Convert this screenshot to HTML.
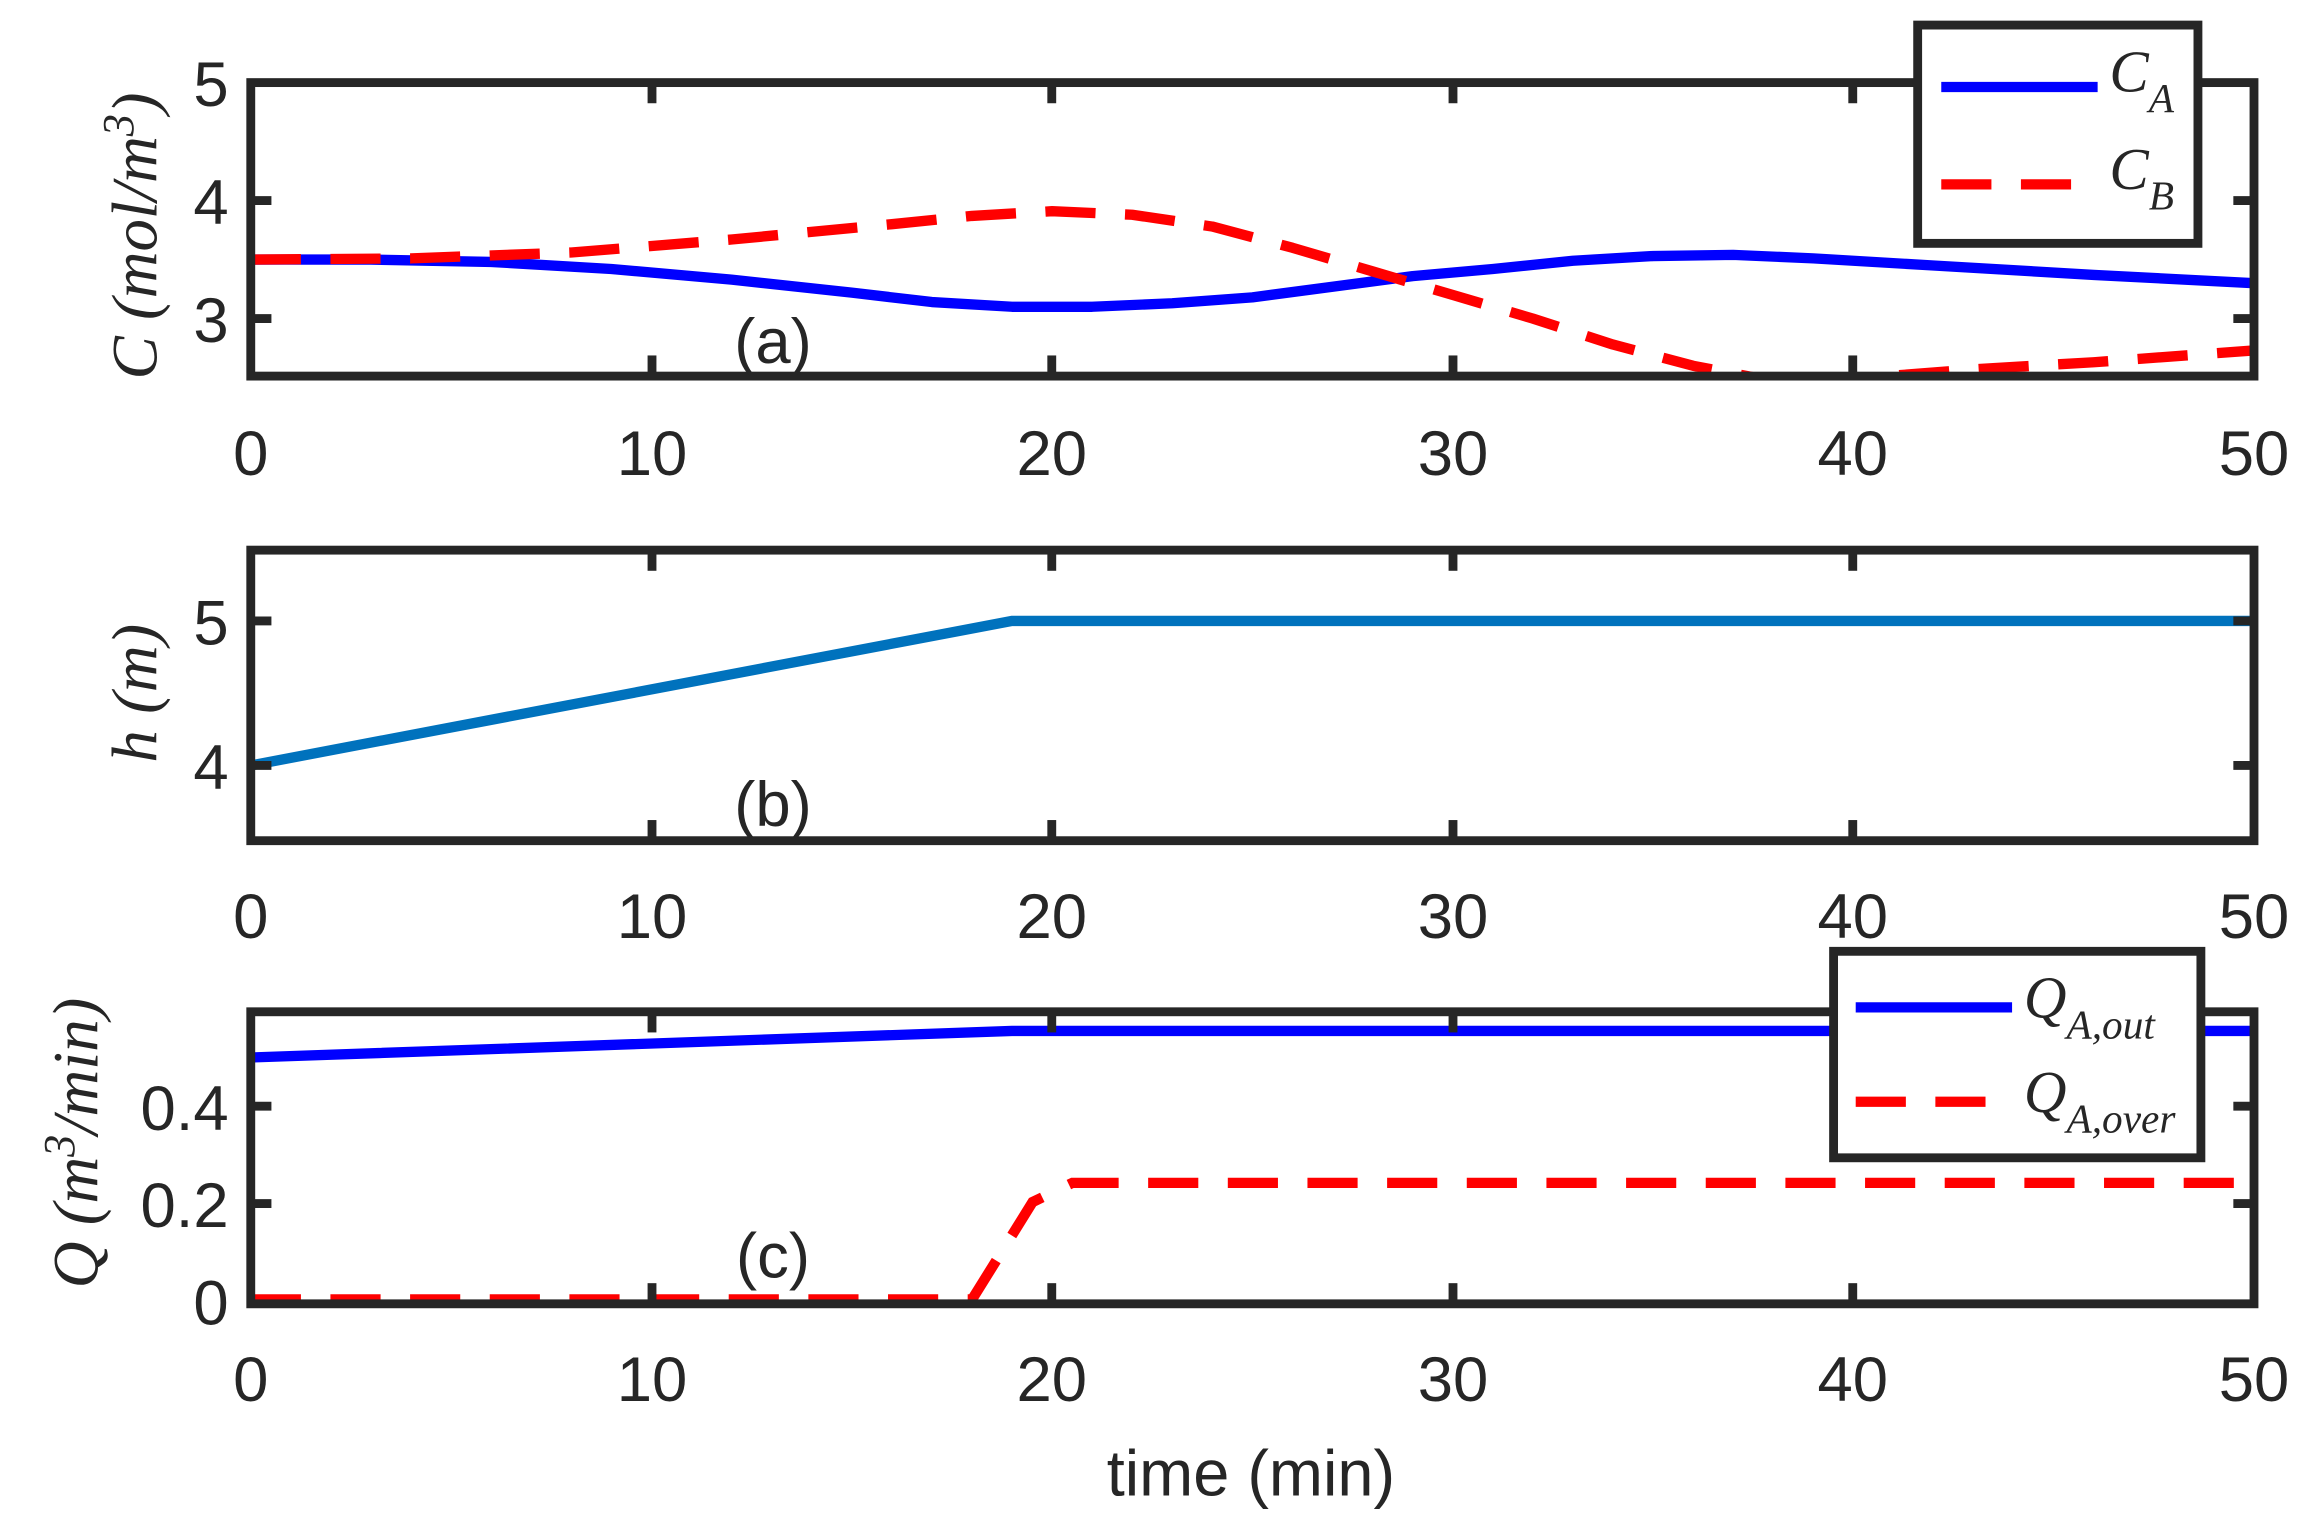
<!DOCTYPE html>
<html><head><meta charset="utf-8"><style>html,body{margin:0;padding:0;background:#fff}svg{display:block}</style></head>
<body>
<svg width="2313" height="1528" viewBox="0 0 1568 1036" preserveAspectRatio="none" xmlns="http://www.w3.org/2000/svg">
<defs>
<clipPath id="ca"><rect x="170" y="56" width="1358" height="199"/></clipPath>
</defs>
<rect width="1568" height="1036" fill="#fff"/>
<g font-family="Liberation Sans, sans-serif" font-size="43" fill="#262626">
<!-- Plot a -->
<g clip-path="url(#ca)" fill="none" stroke-width="7" stroke-linejoin="round">
<polyline stroke="#0000ff" points="170,176 251.5,176 333,177.6 414.4,182.4 495.9,189.6 577.4,198.4 631.7,204.8 686,208 740.4,208 794.7,205.6 849,201.6 903.3,194.4 957.6,187.2 1012,182.4 1066.3,176.8 1120.6,173.6 1174.9,172.8 1229.2,175.2 1310.7,180 1419.4,186.4 1528,192"/>
<polyline stroke="#ff0000" stroke-dasharray="34,20" points="170,176 278.6,175.2 387.3,171.2 495.9,162.4 604.6,152 658.9,146.4 713.2,143.2 767.5,145.6 821.8,153.6 876.2,168 930.5,184 984.8,200 1039.1,216 1093.4,233.6 1147.8,248 1202.1,258.4 1256.4,256.8 1337.9,250.4 1419.4,245.6 1528,237.6"/>
</g>
<rect x="170" y="56" width="1358" height="199" fill="none" stroke="#262626" stroke-width="6"/>
<g stroke="#262626" stroke-width="6">
<line x1="442" y1="56" x2="442" y2="70"/><line x1="713" y1="56" x2="713" y2="70"/><line x1="985" y1="56" x2="985" y2="70"/><line x1="1256" y1="56" x2="1256" y2="70"/>
<line x1="442" y1="255" x2="442" y2="241"/><line x1="713" y1="255" x2="713" y2="241"/><line x1="985" y1="255" x2="985" y2="241"/><line x1="1256" y1="255" x2="1256" y2="241"/>
<line x1="170" y1="136" x2="184" y2="136"/><line x1="170" y1="216" x2="184" y2="216"/>
<line x1="1528" y1="136" x2="1514" y2="136"/><line x1="1528" y1="216" x2="1514" y2="216"/>
</g>
<g text-anchor="end"><text x="155" y="72">5</text><text x="155" y="152">4</text><text x="155" y="232">3</text></g>
<g text-anchor="middle"><text x="170" y="322">0</text><text x="442" y="322">10</text><text x="713" y="322">20</text><text x="985" y="322">30</text><text x="1256" y="322">40</text><text x="1528" y="322">50</text></g>
<text x="524" y="246" text-anchor="middle">(a)</text>
<text transform="translate(106,160) rotate(-90)" text-anchor="middle" font-family="Liberation Serif, serif" font-style="italic" font-size="44">C (mol/m<tspan font-size="30" dy="-16">3</tspan><tspan dy="16">)</tspan></text>
<rect x="1300" y="17" width="190" height="148" fill="#fff" stroke="#262626" stroke-width="6"/>
<line x1="1316" y1="59" x2="1422" y2="59" stroke="#0000ff" stroke-width="7"/>
<line x1="1316" y1="125" x2="1422" y2="125" stroke="#ff0000" stroke-width="7" stroke-dasharray="34,20"/>
<text x="1430" y="62" font-family="Liberation Serif, serif" font-style="italic" font-size="40">C<tspan font-size="28" dy="14">A</tspan></text>
<text x="1430" y="128" font-family="Liberation Serif, serif" font-style="italic" font-size="40">C<tspan font-size="28" dy="14">B</tspan></text>

<!-- Plot b -->
<polyline fill="none" stroke="#0072BD" stroke-width="7" points="170,519 686,421 1528,421"/>
<rect x="170" y="373" width="1358" height="197" fill="none" stroke="#262626" stroke-width="6"/>
<g stroke="#262626" stroke-width="6">
<line x1="442" y1="373" x2="442" y2="387"/><line x1="713" y1="373" x2="713" y2="387"/><line x1="985" y1="373" x2="985" y2="387"/><line x1="1256" y1="373" x2="1256" y2="387"/>
<line x1="442" y1="570" x2="442" y2="556"/><line x1="713" y1="570" x2="713" y2="556"/><line x1="985" y1="570" x2="985" y2="556"/><line x1="1256" y1="570" x2="1256" y2="556"/>
<line x1="170" y1="421" x2="184" y2="421"/><line x1="170" y1="519" x2="184" y2="519"/>
<line x1="1528" y1="421" x2="1514" y2="421"/><line x1="1528" y1="519" x2="1514" y2="519"/>
</g>
<g text-anchor="end"><text x="155" y="437">5</text><text x="155" y="535">4</text></g>
<g text-anchor="middle"><text x="170" y="636">0</text><text x="442" y="636">10</text><text x="713" y="636">20</text><text x="985" y="636">30</text><text x="1256" y="636">40</text><text x="1528" y="636">50</text></g>
<text x="524" y="560" text-anchor="middle">(b)</text>
<text transform="translate(106,470) rotate(-90)" text-anchor="middle" font-family="Liberation Serif, serif" font-style="italic" font-size="44">h (m)</text>

<!-- Plot c -->
<polyline fill="none" stroke="#0000ff" stroke-width="7" points="170,717 686,699 1528,699"/>
<polyline fill="none" stroke="#ff0000" stroke-width="7" stroke-dasharray="34,20" points="170,881 659,881 700,815 727,802 1528,802"/>
<rect x="170" y="686" width="1358" height="198" fill="none" stroke="#262626" stroke-width="6"/>
<g stroke="#262626" stroke-width="6">
<line x1="442" y1="686" x2="442" y2="700"/><line x1="713" y1="686" x2="713" y2="700"/><line x1="985" y1="686" x2="985" y2="700"/><line x1="1256" y1="686" x2="1256" y2="700"/>
<line x1="442" y1="884" x2="442" y2="870"/><line x1="713" y1="884" x2="713" y2="870"/><line x1="985" y1="884" x2="985" y2="870"/><line x1="1256" y1="884" x2="1256" y2="870"/>
<line x1="170" y1="750" x2="184" y2="750"/><line x1="170" y1="816" x2="184" y2="816"/>
<line x1="1528" y1="750" x2="1514" y2="750"/><line x1="1528" y1="816" x2="1514" y2="816"/>
</g>
<g text-anchor="end"><text x="155" y="766">0.4</text><text x="155" y="832">0.2</text><text x="155" y="898">0</text></g>
<g text-anchor="middle"><text x="170" y="950">0</text><text x="442" y="950">10</text><text x="713" y="950">20</text><text x="985" y="950">30</text><text x="1256" y="950">40</text><text x="1528" y="950">50</text></g>
<text x="524" y="866" text-anchor="middle">(c)</text>
<text transform="translate(66,775) rotate(-90)" text-anchor="middle" font-family="Liberation Serif, serif" font-style="italic" font-size="44">Q (m<tspan font-size="30" dy="-16">3</tspan><tspan dy="16">/min)</tspan></text>
<rect x="1243" y="645" width="249" height="140" fill="#fff" stroke="#262626" stroke-width="6"/>
<line x1="1258" y1="683" x2="1364" y2="683" stroke="#0000ff" stroke-width="7"/>
<line x1="1258" y1="747" x2="1364" y2="747" stroke="#ff0000" stroke-width="7" stroke-dasharray="34,20"/>
<text x="1372" y="690" font-family="Liberation Serif, serif" font-style="italic" font-size="40">Q<tspan font-size="28" dy="14">A,out</tspan></text>
<text x="1372" y="754" font-family="Liberation Serif, serif" font-style="italic" font-size="40">Q<tspan font-size="28" dy="14">A,over</tspan></text>

<text x="848" y="1014" text-anchor="middle" font-size="44">time (min)</text>
</g>
</svg>
</body></html>
